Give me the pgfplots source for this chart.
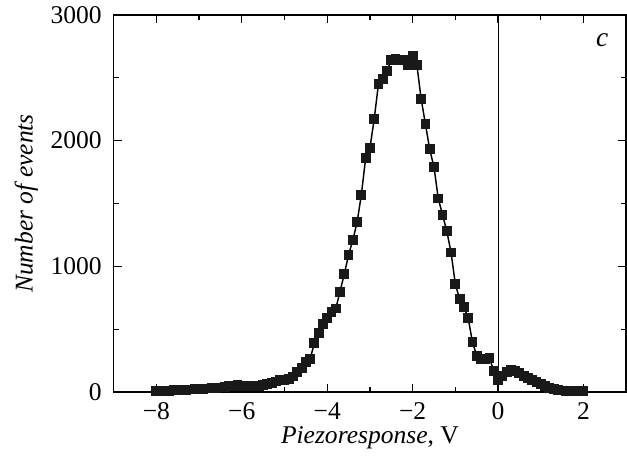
\documentclass[border=0pt]{standalone}
\usepackage{fontspec}
\setmainfont{Liberation Serif}
\usepackage{pgfplots}
\pgfplotsset{compat=1.18}
\begin{document}
\begin{tikzpicture}
\begin{axis}[
  width=281pt, height=207pt, scale only axis,
  xmin=-9, xmax=3, ymin=0, ymax=3000,
  xtick={-8,-6,-4,-2,0,2}, xticklabels={−8,−6,−4,−2,0,2},
  minor xtick={-7,-5,-3,-1,1},
  ytick={0,1000,2000,3000}, minor ytick={500,1500,2500},
  scaled y ticks=false,
  yticklabel style={/pgf/number format/1000 sep={}, xshift=-3pt},
  xticklabel style={yshift=-2pt},
  /pgf/number format/assume math mode=true,
  tick align=inside, major tick length=4.5pt, minor tick length=2.7pt,
  axis line style={line width=0.9pt},
  every tick/.style={black, line width=0.7pt},
  font=\fontsize{14}{16}\selectfont,
  xlabel={\textit{Piezoresponse}, V},
  ylabel={\textit{Number of events}},
  xlabel style={yshift=3pt},
  ylabel style={inner ysep=8pt, yshift=-4.6pt},
]
% histogram of piezoresponse
\addplot[black, line width=0.8pt, mark=square*, mark size=2.3pt,
  mark options={fill=black!90, draw=black!90}]
coordinates {
  (-8.0,10) (-7.9,10) (-7.8,12) (-7.7,13) (-7.6,15) (-7.5,16) (-7.4,18)
  (-7.3,20) (-7.2,22) (-7.1,24) (-7.0,26) (-6.9,28) (-6.8,30) (-6.7,32)
  (-6.6,35) (-6.5,38) (-6.4,42) (-6.3,47) (-6.2,52) (-6.1,55) (-6.0,52)
  (-5.9,48) (-5.8,46) (-5.7,48) (-5.6,52) (-5.5,58) (-5.4,66) (-5.3,75)
  (-5.2,85) (-5.1,95) (-5.0,100) (-4.9,108) (-4.8,125) (-4.7,160)
  (-4.6,195) (-4.5,240) (-4.4,265) (-4.3,390) (-4.2,470) (-4.1,540)
  (-4.0,590) (-3.9,640) (-3.8,665) (-3.7,800) (-3.6,940) (-3.5,1090)
  (-3.4,1210) (-3.3,1350) (-3.2,1570) (-3.1,1860) (-3.0,1940) (-2.9,2170)
  (-2.8,2450) (-2.7,2490) (-2.6,2550) (-2.5,2640) (-2.4,2650) (-2.3,2640)
  (-2.2,2640) (-2.1,2600) (-2.0,2670) (-1.9,2600) (-1.8,2330) (-1.7,2130)
  (-1.6,1930) (-1.5,1790) (-1.4,1540) (-1.3,1410) (-1.2,1280) (-1.1,1110)
  (-1.0,860) (-0.9,740) (-0.8,680) (-0.7,590) (-0.6,400) (-0.5,290)
  (-0.4,260) (-0.3,265) (-0.2,270) (-0.1,170) (0.0,100) (0.1,130)
  (0.2,160) (0.3,175) (0.4,170) (0.5,150) (0.6,130) (0.7,115) (0.8,100)
  (0.9,80) (1.0,65) (1.1,50) (1.2,35) (1.3,25) (1.4,18) (1.5,14)
  (1.6,12) (1.7,10) (1.8,10) (1.9,10) (2.0,10)
};
% zero line
\addplot[black, line width=0.6pt] coordinates {(0,0) (0,3000)};
\node[font=\fontsize{15}{17}\selectfont\itshape] at (rel axis cs:0.953,0.933) {c};
\end{axis}
\end{tikzpicture}
\end{document}
